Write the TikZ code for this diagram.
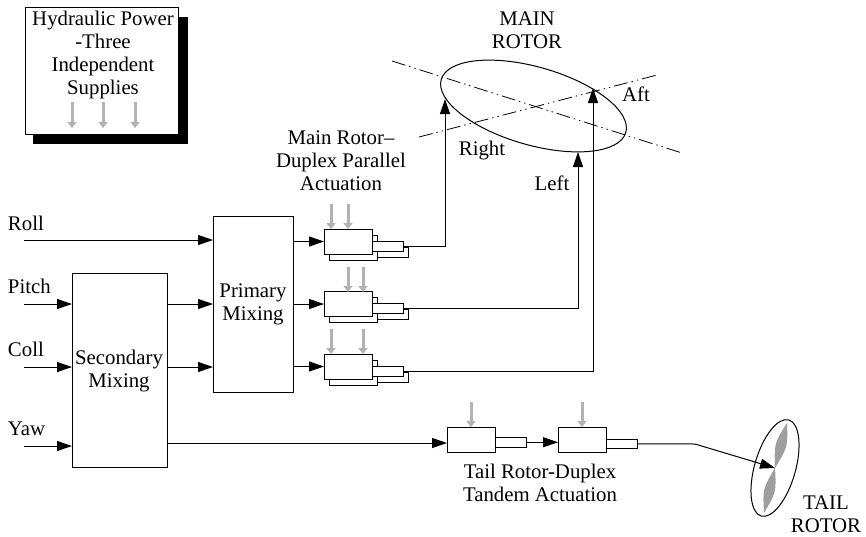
\documentclass[tikz,border=0pt]{standalone}
\usepackage{fontspec}
\setmainfont{Liberation Serif}
\usetikzlibrary{arrows.meta,shapes.geometric}
\tikzset{
  x=1pt,y=-1pt,
  every node/.style={inner sep=0pt,outer sep=0pt},
  lbl/.style={font=\fontsize{20.8}{23.2}\selectfont,align=center,text=black},
  box/.style={draw=black,line width=1pt,fill=white,anchor=north west},
  flow/.style={draw=black,line width=1pt,-{Triangle[length=15pt,width=10pt]}},
  plain/.style={draw=black,line width=1pt},
  hyd/.style={draw=black!30,line width=3pt,-{Triangle[length=6pt,width=9pt]}},
  axisline/.style={draw=black,line width=.8pt,dash pattern=on 14pt off 4pt on 1.4pt off 4pt on 1.4pt off 4pt},
  blade/.style={fill=black!38,draw=none},
}
% duplex actuator: rear cylinder, rear rod, front cylinder, front rod
\newcommand{\duplexact}[3]{%
  \node[box,minimum width=48pt,minimum height=25pt] (#1r) at (#2+5,#3+6) {};
  \node[box,minimum width=31pt,minimum height=10pt] (#1q) at (#2+53,#3+18) {};
  \node[box,minimum width=48pt,minimum height=25pt] (#1) at (#2,#3) {};
  \node[box,minimum width=31pt,minimum height=10pt] (#1p) at (#2+48,#3+12) {};
}
% single actuator: name, x, y, rod top offset
\newcommand{\singleact}[4]{%
  \node[box,minimum width=32pt,minimum height=9.5pt] (#1p) at (#2+47,#3+#4) {};
  \node[box,minimum width=48pt,minimum height=25pt] (#1) at (#2,#3) {};
}
\begin{document}
\begin{tikzpicture}
\useasboundingbox (0,0) rectangle (866,536);
% hydraulic supply
\fill[black] (33,17) rectangle (188,144);
\node[box,minimum width=153pt,minimum height=127pt] (hyd) at (25,7) {};
\node[lbl] (hydt) at (103,55) {Hydraulic Power\\-Three\\Independent\\Supplies};
\foreach \x/\n in {72/a,103/b,135/c}{
  \coordinate (h\n s) at (\x,102); \coordinate (h\n e) at (\x,128);
  \draw[hyd] (h\n s) -- (h\n e);
}
% mixers
\node[box,minimum width=95pt,minimum height=194pt] (sec) at (72,273) {};
\node[box,minimum width=80pt,minimum height=176pt] (pri) at (213,216) {};
\node[lbl] (sect) at (119,371) {Secondary\\Mixing};
\node[lbl] (prit) at (253,304) {Primary\\Mixing};
% input labels
\node[lbl,anchor=west] (roll) at (8,223) {Roll};
\node[lbl,anchor=west] (pitch) at (8,286) {Pitch};
\node[lbl,anchor=west] (coll) at (8,349) {Coll};
\node[lbl,anchor=west] (yaw) at (8,429) {Yaw};
\coordinate (irol) at (24,240);
\coordinate (ipit) at (24,304);
\coordinate (icol) at (24,367);
\coordinate (iyaw) at (24,446);
\draw[flow] (irol) -- (irol -| pri.west);
\draw[flow] (ipit) -- (ipit -| sec.west);
\draw[flow] (icol) -- (icol -| sec.west);
\draw[flow] (iyaw) -- (iyaw -| sec.west);
\draw[flow] (ipit -| sec.east) -- (ipit -| pri.west);
\draw[flow] (icol -| sec.east) -- (icol -| pri.west);
% actuators
\duplexact{aa}{324}{229}
\duplexact{ab}{324}{291.5}
\duplexact{ac}{324}{354}
\singleact{ta}{447}{427}{10.5}
\singleact{tb}{558}{427}{12}
\draw[flow] (pri.east |- aa.west) -- (aa.west);
\draw[flow] (pri.east |- ab.west) -- (ab.west);
\draw[flow] (pri.east |- ac.west) -- (ac.west);
\coordinate (secout) at (167,443);
\draw[flow] (secout) -- (secout -| ta.west);
\draw[flow] (tap.east) -- (tap.east -| tb.west);
% hydraulic feeds
\foreach \n/\x/\y in {a/331/204,b/348/204,c/348/267,d/363/267,e/331/329,f/363/329,g/471/402,i/582/402}{
  \coordinate (f\n s) at (\x,\y); \coordinate (f\n e) at (\x,\y+25);
  \draw[hyd] (f\n s) -- (f\n e);
}
% main rotor
\node[draw=black,line width=1pt,ellipse,minimum width=192pt,minimum height=78pt,rotate=-16] (rotor) at (533.5,106) {};
\coordinate (axa) at (392,61); \coordinate (axb) at (682,153);
\coordinate (axc) at (419,137); \coordinate (axd) at (657,75);
\draw[axisline] (axa) -- (axb);
\draw[axisline] (axc) -- (axd);
\coordinate (tipr) at (445,99);
\coordinate (tipl) at (578,152);
\coordinate (tipa) at (593,88);
\draw[flow] (aap.east) -| (tipr);
\draw[flow] (abp.east) -| (tipl);
\draw[flow] (acp.east) -| (tipa);
\node[lbl] (mr) at (527,30) {MAIN\\ROTOR};
\node[lbl] (aft) at (636,94) {Aft};
\node[lbl] (right) at (482,151) {Right};
\node[lbl] (left) at (552,183) {Left};
\node[lbl] (mrd) at (341,161) {Main Rotor--\\Duplex Parallel\\Actuation};
% tail
\node[draw=black,line width=1pt,ellipse,minimum width=41pt,minimum height=100pt,rotate=-16] (tail) at (775,468) {};
\fill[blade] (tail.center) .. controls (774.2,443.2) .. (787,423) .. controls (787.8,446.8) .. (tail.center);
\fill[blade] (tail.center) .. controls (776.3,492.2) .. (764,513) .. controls (762.7,488.8) .. (tail.center);
\coordinate (bend) at (695,444);
\draw[plain] (tbp.east) -- (bend);
\draw[flow] (bend) -- (tail.center);
\node[lbl] (trd) at (540,483) {Tail Rotor-Duplex\\Tandem Actuation};
\node[lbl] (tr) at (826,514) {TAIL\\ROTOR};
\end{tikzpicture}
\end{document}
